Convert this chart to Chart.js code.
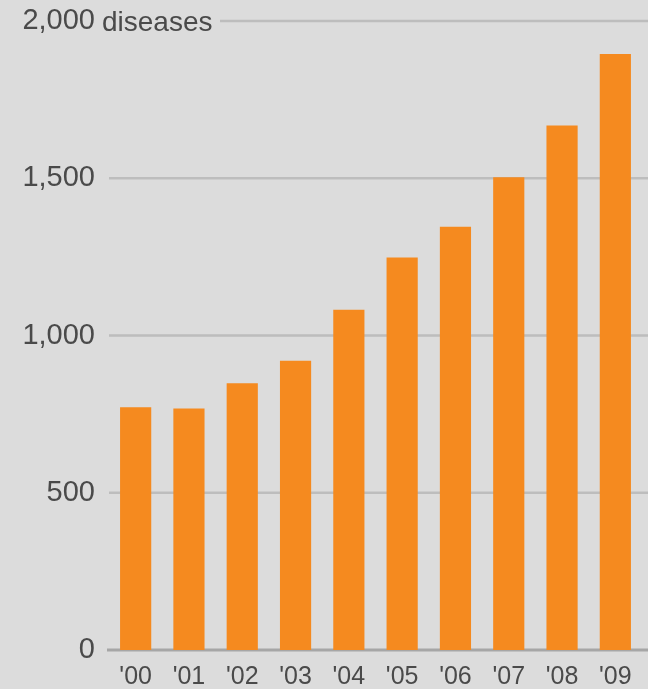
<!DOCTYPE html>
<html>
<head>
<meta charset="utf-8">
<script src="https://cdn.jsdelivr.net/npm/chart.js@4/dist/chart.umd.min.js"></script>
<style>
  html, body { margin: 0; padding: 0; background: #dcdcdc; }
  #wrap { width: 648px; height: 689px; position: relative; }
</style>
</head>
<body>
<div id="wrap"><canvas id="chart-bars"></canvas></div>
<script>
// data
const years = ["'00", "'01", "'02", "'03", "'04", "'05", "'06", "'07", "'08", "'09"];
const diseases = [772, 768, 848, 920, 1082, 1248, 1346, 1503, 1668, 1895];
const yTicks = [0, 500, 1000, 1500, 2000];
const unitLabel = "diseases";

const textColor = "#4a4a4a";

// gridlines run past the chart area to the right edge, drawn behind the bars
const gridPlugin = {
    id: 'wideGrid',
    beforeDatasetsDraw(chart) {
        const ctx = chart.ctx;
        const y = chart.scales.y;
        const left = chart.chartArea.left;
        ctx.save();
        yTicks.forEach(v => {
            const py = y.getPixelForValue(v);
            ctx.beginPath();
            if (v === 0) {
                ctx.strokeStyle = "#a6a6a6";
                ctx.lineWidth = 3;
                ctx.moveTo(left - 2, py);
            } else if (v === 2000) {
                ctx.strokeStyle = "#bdbdbd";
                ctx.lineWidth = 2.5;
                ctx.moveTo(220, py);
            } else {
                ctx.strokeStyle = "#bdbdbd";
                ctx.lineWidth = 2.5;
                ctx.moveTo(left, py);
            }
            ctx.lineTo(chart.width, py);
            ctx.stroke();
        });
        ctx.restore();
    },
    afterDraw(chart) {
        // unit word next to the top tick
        const ctx = chart.ctx;
        const y = chart.scales.y;
        ctx.save();
        ctx.font = "28px 'Liberation Sans', Arial, sans-serif";
        ctx.fillStyle = textColor;
        ctx.textBaseline = "middle";
        ctx.textAlign = "left";
        ctx.fillText(unitLabel, 102, y.getPixelForValue(2000) + 2);
        ctx.restore();
    }
};

const ctx = document.getElementById("chart-bars").getContext("2d");
const diseaseChart = new Chart(ctx, {
    type: "bar",
    data: {
        labels: years,
        datasets: [{
            label: "Diseases",
            backgroundColor: "#f58a1f",
            borderWidth: 0,
            data: diseases,
            categoryPercentage: 1,
            barPercentage: 0.585
        }]
    },
    options: {
        responsive: true,
        maintainAspectRatio: false,
        animation: false,
        layout: {
            padding: { top: 21, right: 6, left: 0, bottom: 0 }
        },
        plugins: {
            legend: { display: false },
            tooltip: { enabled: false }
        },
        scales: {
            y: {
                min: 0,
                max: 2000,
                afterFit(scale) {
                    scale.width = 109;
                    scale.paddingTop = 0;
                    scale.paddingBottom = 0;
                },
                afterBuildTicks(scale) { scale.ticks = yTicks.map(v => ({ value: v })); },
                grid: { display: false, drawTicks: false },
                border: { display: false },
                ticks: {
                    padding: 14,
                    color: textColor,
                    font: { size: 29, family: "'Liberation Sans', Arial, sans-serif" },
                    callback: v => v.toLocaleString('en-US')
                }
            },
            x: {
                afterFit(scale) { scale.height = 39; },
                grid: { display: false, drawTicks: false },
                border: { display: false },
                ticks: {
                    padding: 12,
                    color: textColor,
                    maxRotation: 0,
                    font: { size: 25, family: "'Liberation Sans', Arial, sans-serif" }
                }
            }
        }
    },
    plugins: [gridPlugin]
});
</script>
</body>
</html>
